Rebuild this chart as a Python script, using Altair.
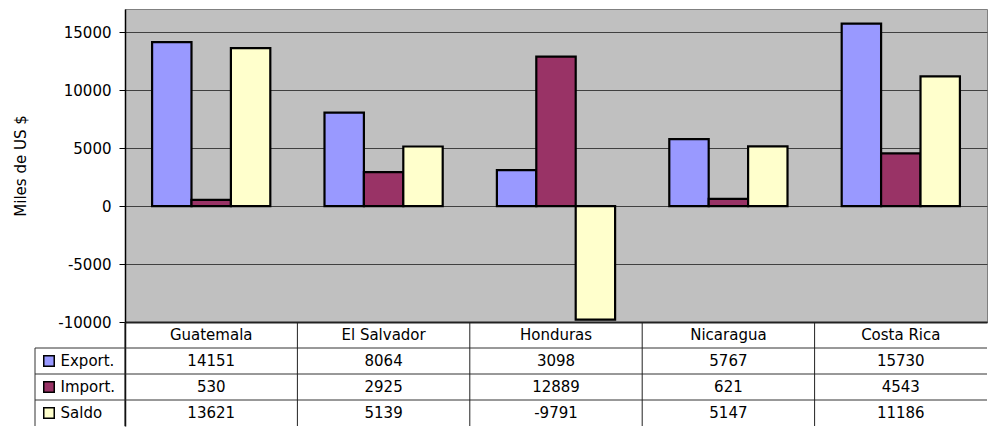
import altair as alt
import pandas as pd

countries = ["Guatemala", "El Salvador", "Honduras", "Nicaragua", "Costa Rica"]
series = ["Export.", "Import.", "Saldo"]
export_vals = [14151, 8064, 3098, 5767, 15730]
import_vals = [530, 2925, 12889, 621, 4543]
saldo_vals = [13621, 5139, -9791, 5147, 11186]
series_colors = ["#9999FF", "#993366", "#FFFFCC"]
y_ticks = [-10000, -5000, 0, 5000, 10000, 15000]

FONT = "DejaVu Sans"
FS = 15
PLOT_W = 862
PLOT_H = 313
TBL_H = 104
ROW_H = TBL_H / 4

rows = []
for s, vals in zip(series, [export_vals, import_vals, saldo_vals]):
    for c, v in zip(countries, vals):
        rows.append({"country": c, "serie": s, "value": v, "label": str(v)})
df = pd.DataFrame(rows)
hdr = pd.DataFrame({"country": countries, "serie": ["hdr"] * len(countries), "label": countries})
legend_df = pd.DataFrame({"serie": series})
cols_df = pd.DataFrame({"country": countries})
one = pd.DataFrame({"a": [0]})

x_scale = alt.Scale(domain=countries, paddingInner=0, paddingOuter=0)

# ---------- top: bar chart ----------
bars = alt.Chart(df).mark_bar(stroke="black", strokeWidth=2.2).encode(
    x=alt.X("country:N", sort=countries, scale=x_scale,
            axis=alt.Axis(labels=False, ticks=False, title=None, grid=False,
                          domainColor="#222222", domainWidth=2)),
    xOffset=alt.XOffset("serie:N", sort=series,
                        scale=alt.Scale(domain=series, paddingInner=0, paddingOuter=0.6875)),
    y=alt.Y("value:Q", scale=alt.Scale(domain=[-10000, 17000], nice=False, zero=False),
            axis=alt.Axis(values=y_ticks, labelExpr="'' + datum.value",
                          grid=True, gridColor="#404040", gridWidth=1.2,
                          tickSize=6, tickColor="#000000", domainColor="#000000", domainWidth=1.5,
                          labelFont=FONT, labelFontSize=FS, labelColor="#000000", labelPadding=8,
                          title="Miles de US $", titleFont=FONT, titleFontSize=FS,
                          titleFontWeight="normal", titleColor="#000000",
                          titleX=-105, titleY=PLOT_H / 2, titleBaseline="middle", titleAlign="center")),
    color=alt.Color("serie:N", scale=alt.Scale(domain=series, range=series_colors), legend=None),
).properties(width=PLOT_W, height=PLOT_H,
             view=alt.ViewBackground(fill="#C0C0C0", stroke="#808080", strokeWidth=1))

# ---------- bottom: data table ----------
x_axis_tbl = alt.Axis(labels=False, ticks=False, domain=False, grid=False, title=None)
y_axis_tbl = alt.Axis(values=series, ticks=False, grid=False,
                      domain=True, domainColor="#000000", domainWidth=1.5,
                      labelAlign="left", labelBaseline="middle", labelPadding=65,
                      labelFont=FONT, labelFontSize=FS, labelColor="#000000", title=None)
y_scale_tbl = alt.Scale(domain=["hdr"] + series, paddingInner=0, paddingOuter=0)

X_t = alt.X("country:N", sort=countries, scale=x_scale, axis=x_axis_tbl)
Y_t = alt.Y("serie:N", scale=y_scale_tbl, axis=y_axis_tbl)

h_lines = alt.Chart(legend_df).mark_rule(color="#333333", strokeWidth=1).encode(
    y=alt.Y("serie:N", scale=y_scale_tbl, axis=y_axis_tbl, bandPosition=0),
    x=alt.value(-90), x2=alt.value(PLOT_W))
v_lines = alt.Chart(cols_df).mark_rule(color="#222222", strokeWidth=1).encode(
    x=alt.X("country:N", sort=countries, scale=x_scale, axis=x_axis_tbl, bandPosition=0),
    y=alt.value(0), y2=alt.value(TBL_H))
left_rule = alt.Chart(one).mark_rule(color="#333333", strokeWidth=1).encode(
    x=alt.value(-90), y=alt.value(ROW_H), y2=alt.value(TBL_H))
cells = alt.Chart(df).mark_text(font=FONT, fontSize=FS, color="#000000").encode(
    x=X_t, y=Y_t, text="label:N")
header = alt.Chart(hdr).mark_text(font=FONT, fontSize=FS, color="#000000").encode(
    x=X_t, y=Y_t, text="label:N")
squares = alt.Chart(legend_df).mark_square(size=110, stroke="black", strokeWidth=1.5, opacity=1).encode(
    x=alt.value(-76), y=Y_t,
    fill=alt.Fill("serie:N", scale=alt.Scale(domain=series, range=series_colors), legend=None))

table = alt.layer(h_lines, v_lines, left_rule, cells, header, squares).properties(
    width=PLOT_W, height=TBL_H, view=alt.ViewBackground(stroke="transparent"))

chart = alt.vconcat(bars, table, spacing=0, bounds="flush").resolve_scale(
    x="shared", color="independent", fill="independent"
).properties(
    padding={"left": 4, "top": 0, "right": 0, "bottom": 0},
    background="white",
)

chart.save("out.html", embed_options={"renderer": "svg", "actions": False})
